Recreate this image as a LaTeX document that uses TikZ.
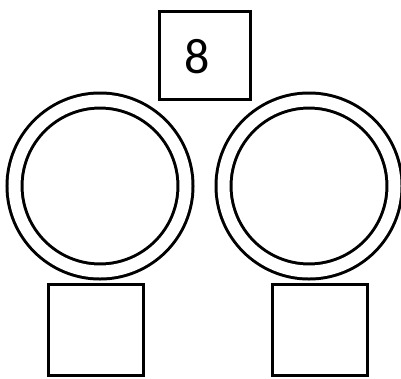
\documentclass[tikz,border=0pt]{standalone}
\usepackage{fontspec}
\setmainfont{Carlito}
\usepackage{tikz}

\begin{document}
\begin{tikzpicture}[x=1pt, y=-1pt, line width=3pt,
    topbox/.style={draw, minimum width=91pt, minimum height=88pt, inner sep=0pt},
    slotbox/.style={draw, minimum width=95pt, minimum height=91pt, inner sep=0pt},
    ring/.style={draw, circle, minimum size=171pt, inner sep=0pt, double, double distance=12pt},
    digit/.style={font=\fontsize{50}{50}\selectfont, inner sep=0pt}]
    \useasboundingbox (0,0) rectangle (401,378);
    % top box with the number
    \node[topbox] (top) at (205,55) {};
    \node[digit] (eight) at (197,57) {8};
    % the two rings
    \node[ring] (ringL) at (100,186) {};
    \node[ring] (ringR) at (309,186) {};
    % empty boxes below
    \node[slotbox] (boxL) at (95.5,330) {};
    \node[slotbox] (boxR) at (319.5,330) {};
\end{tikzpicture}
\end{document}
